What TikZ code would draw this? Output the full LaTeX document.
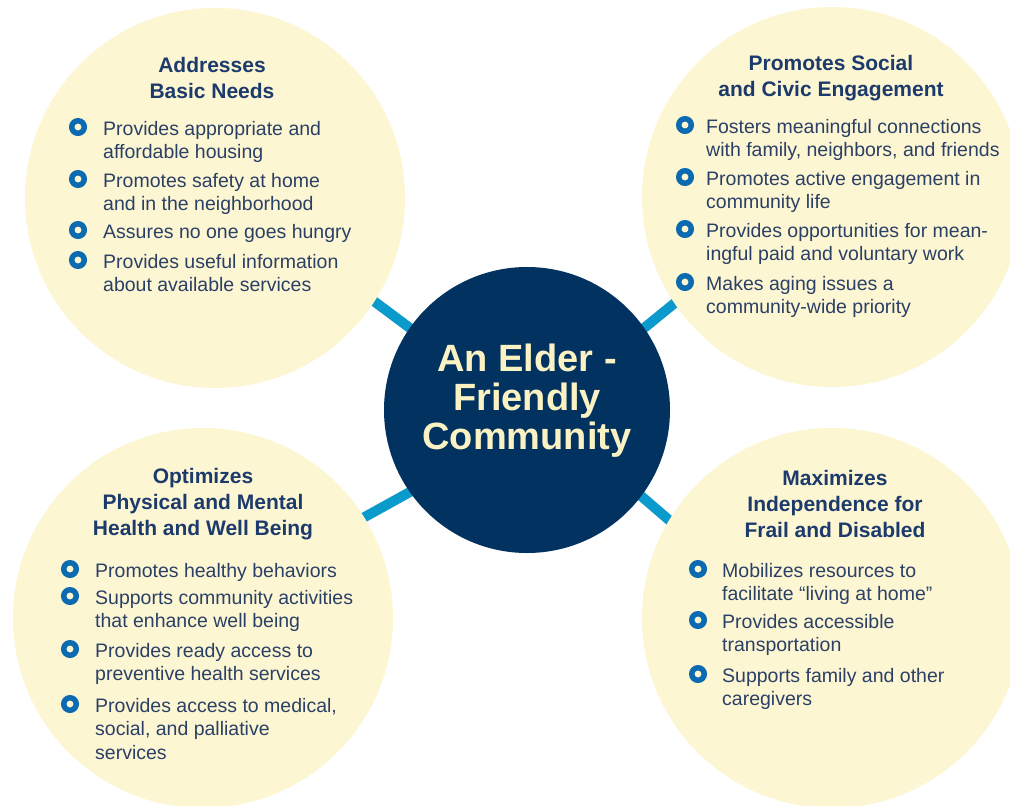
\documentclass[tikz,border=0pt]{standalone}
\usepackage{fontspec}
\setmainfont{Liberation Sans}
\usetikzlibrary{backgrounds}
\definecolor{cream}{HTML}{FDF6D2}
\definecolor{navy}{HTML}{02325F}
\definecolor{hubtext}{HTML}{FBF2C4}
\definecolor{linkblue}{HTML}{0A9ACB}
\definecolor{headblue}{HTML}{1C3B6C}
\definecolor{bodyblue}{HTML}{2A4066}
\definecolor{bulletblue}{HTML}{0B6AB0}
\tikzset{
  bubble/.style={circle, fill=cream, minimum size=380pt, inner sep=0pt, outer sep=0pt},
  hub/.style={circle, fill=navy, minimum size=286pt, inner sep=0pt, outer sep=0pt},
  hubtitle/.style={anchor=base, inner sep=0pt, text=hubtext, font=\bfseries\fontsize{38}{38.5}\selectfont},
  link/.style={draw=linkblue, line width=10pt, shorten <=-8pt, shorten >=-8pt},
  heading/.style={anchor=base, inner sep=0pt, text=headblue, font=\bfseries\fontsize{21}{26}\selectfont},
  item/.style={anchor=base west, inner sep=0pt, text=bodyblue, font=\fontsize{19.5}{23.5}\selectfont},
  bullet/.style={circle, draw=bulletblue, line width=5.5pt, fill=cream, minimum size=12.5pt, inner sep=0pt},
}
\newcommand{\lines}[1]{\begin{tabular}[t]{@{}l@{}}#1\end{tabular}}
\newcommand{\clines}[1]{\begin{tabular}[t]{@{}c@{}}#1\end{tabular}}
\begin{document}
\begin{tikzpicture}[x=1pt,y=-1pt]
\clip (0,0) rectangle (1010,806);
\useasboundingbox (0,0) rectangle (1010,806);

% circles
\node[bubble] (tl) at (215,198) {};
\node[bubble] (tr) at (832,197) {};
\node[bubble] (bl) at (203,618) {};
\node[bubble] (br) at (832,618) {};
\node[hub] (hub) at (527,410) {};

% connectors behind the circles
\begin{pgfonlayer}{background}
  \fill[white] (0,0) rectangle (1010,806);
  \draw[link] (tl.-33) -- (hub.145);
  \draw[link] (hub.35) -- (tr.-146);
  \draw[link] (hub.-145) -- (bl.32);
  \draw[link] (hub.-37) -- (br.149);
\end{pgfonlayer}

% hub title
\node[hubtitle] (hubt) at (527,371) {\clines{An Elder -\\Friendly\\Community}};

% top left
\node[heading] (tlh) at (212,72) {\clines{Addresses\\Basic Needs}};
\node[bullet] (tlb1) at (78,127) {};
\node[item] (tli1) at (103,135) {\lines{Provides appropriate and\\affordable housing}};
\node[bullet] (tlb2) at (78,179) {};
\node[item] (tli2) at (103,187) {\lines{Promotes safety at home\\and in the neighborhood}};
\node[bullet] (tlb3) at (78,230) {};
\node[item] (tli3) at (103,238) {\lines{Assures no one goes hungry}};
\node[bullet] (tlb4) at (78,260) {};
\node[item] (tli4) at (103,268) {\lines{Provides useful information\\about available services}};

% top right
\node[heading] (trh) at (831,70) {\clines{Promotes Social\\and Civic Engagement}};
\node[bullet] (trb1) at (685,125) {};
\node[item] (tri1) at (706,133) {\lines{Fosters meaningful connections\\with family, neighbors, and friends}};
\node[bullet] (trb2) at (685,177) {};
\node[item] (tri2) at (706,185) {\lines{Promotes active engagement in\\community life}};
\node[bullet] (trb3) at (685,229) {};
\node[item] (tri3) at (706,237) {\lines{Provides opportunities for mean-\\ingful paid and voluntary work}};
\node[bullet] (trb4) at (685,282) {};
\node[item] (tri4) at (706,290) {\lines{Makes aging issues a\\community-wide priority}};

% bottom left
\node[heading] (blh) at (203,483) {\clines{Optimizes\\Physical and Mental\\Health and Well Being}};
\node[bullet] (blb1) at (70,569) {};
\node[item] (bli1) at (95,577) {\lines{Promotes healthy behaviors}};
\node[bullet] (blb2) at (70,596) {};
\node[item] (bli2) at (95,604) {\lines{Supports community activities\\that enhance well being}};
\node[bullet] (blb3) at (70,649) {};
\node[item] (bli3) at (95,657) {\lines{Provides ready access to\\preventive health services}};
\node[bullet] (blb4) at (70,704) {};
\node[item] (bli4) at (95,712) {\lines{Provides access to medical,\\social, and palliative\\services}};

% bottom right
\node[heading] (brh) at (835,485) {\clines{Maximizes\\Independence for\\Frail and Disabled}};
\node[bullet] (brb1) at (698,569) {};
\node[item] (bri1) at (722,577) {\lines{Mobilizes resources to\\facilitate “living at home”}};
\node[bullet] (brb2) at (698,620) {};
\node[item] (bri2) at (722,628) {\lines{Provides accessible\\transportation}};
\node[bullet] (brb3) at (698,674) {};
\node[item] (bri3) at (722,682) {\lines{Supports family and other\\caregivers}};
\end{tikzpicture}
\end{document}
